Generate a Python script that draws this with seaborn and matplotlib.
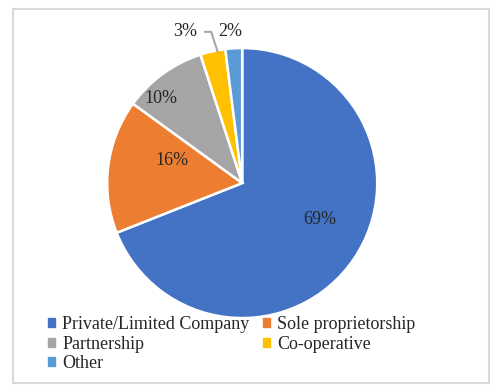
import seaborn as sns
import matplotlib.pyplot as plt
import matplotlib.patches as mpatches
import numpy as np
import pandas as pd

categories = ['Private/Limited Company', 'Sole proprietorship', 'Partnership', 'Co-operative', 'Other']
shares = [69, 16, 10, 3, 2]
label_texts = ['69%', '16%', '10%', '3%', '2%']

sns.set_theme(style='white')
plt.rcParams['font.family'] = ['Liberation Serif', 'DejaVu Serif']

df = pd.DataFrame({'category': categories, 'share': shares})
colors = sns.color_palette(['#4472C4', '#ED7D31', '#A5A5A5', '#FFC000', '#5B9BD5'])
text_color = '#262626'
fs = 13

fig = plt.figure(figsize=(5.03, 3.92), dpi=100)
ax = fig.add_axes([0.146, 0.1025, 0.671, 0.861])

wedges, _ = ax.pie(df['share'], colors=colors, startangle=90, counterclock=False,
                   wedgeprops=dict(edgecolor='white', linewidth=1.8))
ax.set_xlim(-1.25, 1.25)
ax.set_ylim(-1.25, 1.25)
ax.set_aspect('equal')

# label radius and angle nudge per slice (Excel "best fit" style)
label_r = [0.63, 0.55, 0.88]
label_nudge = [10, -12, 7]
for w, txt, r, nd in zip(wedges[:3], label_texts[:3], label_r, label_nudge):
    mid = np.deg2rad((w.theta1 + w.theta2) / 2 + nd)
    ax.text(r * np.cos(mid), r * np.sin(mid) - 0.015, txt, ha='center', va='center',
            fontsize=fs, color=text_color)

# small slices: labels outside at the top, leader line for 3%
w3 = wedges[3]
m3 = np.deg2rad((w3.theta1 + w3.theta2) / 2 - 2)
ax.annotate(label_texts[3], xy=(0.99 * np.cos(m3), 0.99 * np.sin(m3)),
            xytext=(-0.42, 1.12), ha='center', va='center', fontsize=fs, color=text_color,
            arrowprops=dict(arrowstyle='-', color='#a6a6a6', lw=1.5,
                            shrinkA=3, shrinkB=0,
                            connectionstyle='angle,angleA=0,angleB=108,rad=0'))
ax.text(-0.09, 1.12, label_texts[4], ha='center', va='center', fontsize=fs, color=text_color)

# legend, row-wise order like Excel
order = [0, 2, 4, 1, 3]
handles = [mpatches.Patch(color=colors[i], label=categories[i]) for i in order]
fig.legend(handles=handles, ncol=2, loc='upper left', bbox_to_anchor=(0.096, 0.193),
           frameon=False, fontsize=fs, handlelength=0.38, handleheight=0.38,
           handletextpad=0.4, columnspacing=0.75, labelspacing=0.13,
           labelcolor=text_color, borderaxespad=0, borderpad=0)

fig.patches.append(mpatches.Rectangle((0.026, 0.023), 0.946, 0.954, transform=fig.transFigure,
                                      fill=False, edgecolor='#d9d9d9', linewidth=1.5))

fig.savefig('out.png', dpi=100)
